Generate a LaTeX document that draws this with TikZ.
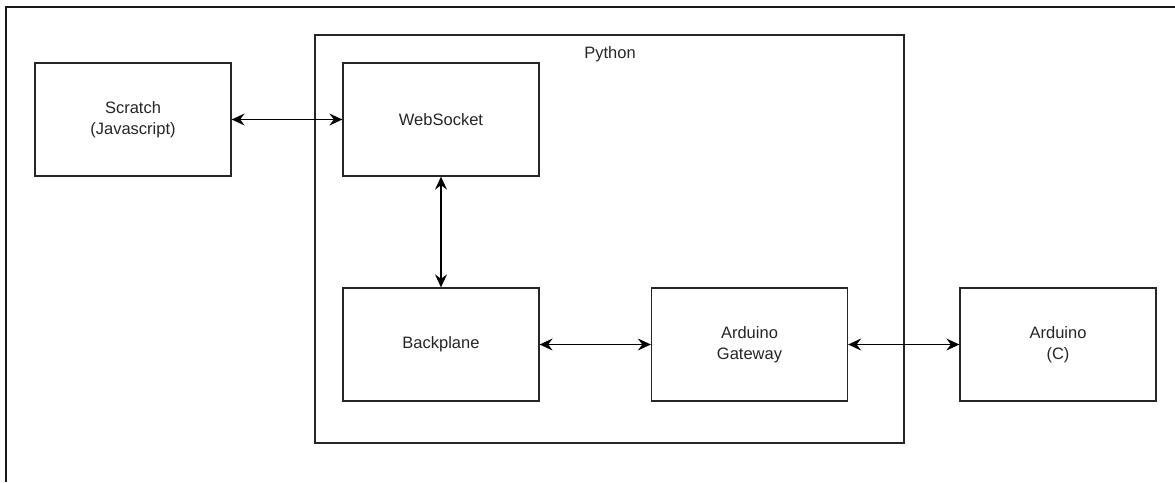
\documentclass[tikz,border=0pt]{standalone}
\usepackage{fontspec}
\setmainfont{Liberation Sans}
\usetikzlibrary{arrows.meta}
\begin{document}
\begin{tikzpicture}[x=1pt,y=-1pt,
  lbl/.style={font=\fontsize{16.5}{21}\selectfont, text=black!85},
  box/.style={draw=black!85, line width=1.3pt, fill=white, inner sep=0pt, align=center, lbl},
  link/.style={line width=1.3pt, draw=black, {Stealth[length=13pt,width=12pt,inset=4.5pt]}-{Stealth[length=13pt,width=12pt,inset=4.5pt]}}]
\useasboundingbox (0,0) rectangle (1175,482);
\draw[line width=1.5pt, black!90] (6,482) -- (6,7) -- (1175,7);
\node[box, minimum width=589pt, minimum height=408pt] (python) at (609.5,239) {};
\node[lbl] (pylabel) at (610,54) {Python};
\node[box, minimum width=196pt, minimum height=113pt] (scratch) at (133,119.5) {Scratch\\(Javascript)};
\node[box, minimum width=196pt, minimum height=113pt] (ws) at (441,119.5) {WebSocket};
\node[box, minimum width=196pt, minimum height=113pt] (bp) at (441,344.5) {Backplane};
\node[box, minimum width=196pt, minimum height=113pt] (gw) at (749.5,344.5) {Arduino\\Gateway};
\node[box, minimum width=196pt, minimum height=113pt] (ard) at (1058,344.5) {Arduino\\(C)};
\draw[link] (scratch) -- (ws);
\draw[link] (ws) -- (bp);
\draw[link] (bp) -- (gw);
\draw[link] (gw) -- (ard);
\end{tikzpicture}
\end{document}
